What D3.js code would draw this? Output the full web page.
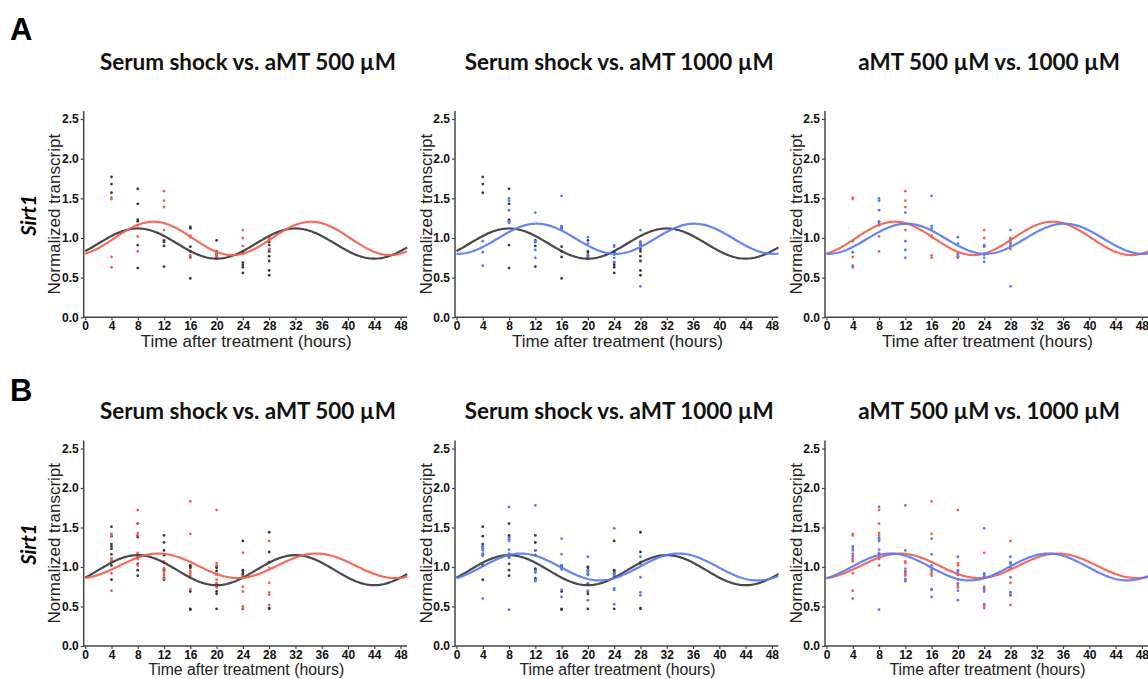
<!DOCTYPE html>
<html>
<head>
<meta charset="utf-8">
<script src="https://cdn.jsdelivr.net/npm/d3@7"></script>
<style>
  html, body { margin: 0; padding: 0; background: #fff; }
  svg { display: block; }
</style>
</head>
<body>
<svg id="chart" width="1148" height="679"></svg>
<script>
// ---------------- DATA ----------------
const timepoints = [4, 8, 12, 16, 20, 24, 28];
const xTicks = [0, 4, 8, 12, 16, 20, 24, 28, 32, 36, 40, 44, 48];
const yTicks = [0, 0.5, 1.0, 1.5, 2.0, 2.5];

const seriesNames = ["Serum shock", "aMT 500 µM", "aMT 1000 µM"];
const panelTitles = ["Serum shock vs. aMT 500 µM", "Serum shock vs. aMT 1000 µM", "aMT 500 µM vs. 1000 µM"];
const panelPairs = [[0, 1], [0, 2], [1, 2]];
const rowLabels = ["A", "B"];
const geneName = "Sirt1";

// Row A replicate values at each timepoint
const serumA = [
  [1.77, 1.68, 1.57],
  [1.62, 1.43, 1.23, 1.21, 0.91, 0.62],
  [0.97, 0.95, 0.90, 0.64],
  [1.14, 1.12, 0.89, 0.83, 0.76, 0.49],
  [0.97, 0.83, 0.81, 0.78, 0.74],
  [0.82, 0.69, 0.66, 0.63, 0.56],
  [0.95, 0.91, 0.86, 0.83, 0.77, 0.71, 0.59, 0.53]
];
const aMT500A = [
  [1.51, 1.49, 0.76, 0.63],
  [1.16, 1.02, 0.83],
  [1.59, 1.47, 1.39, 1.10],
  [1.03, 1.01, 0.78, 0.75],
  [0.80, 0.77, 0.75],
  [1.10, 1.00, 0.90, 0.80],
  [1.00, 0.98, 0.86]
];
const aMT1000A = [
  [0.96, 0.82, 0.65],
  [1.50, 1.47, 1.35, 1.21, 1.19],
  [1.32, 0.96, 0.85, 0.75],
  [1.53, 1.15, 1.12],
  [1.01, 0.93, 0.79, 0.77],
  [0.91, 0.89, 0.79, 0.75, 0.70],
  [1.10, 0.95, 0.93, 0.90, 0.39]
];
// Row B replicate values
const serumB = [
  [1.51, 1.39, 1.29, 1.26, 1.23, 1.16, 1.02, 0.84],
  [1.55, 1.40, 1.38, 1.12, 1.04, 0.96, 0.89],
  [1.40, 1.31, 1.21, 1.15, 0.98, 0.96, 0.86, 0.84],
  [1.02, 1.00, 0.99, 0.69, 0.47, 0.46],
  [1.00, 0.99, 0.95, 0.91, 0.79, 0.69, 0.66, 0.47],
  [1.33, 0.96, 0.95, 0.92, 0.90, 0.87, 0.47],
  [1.44, 1.19, 1.06, 0.48, 0.47]
];
const aMT500B = [
  [1.42, 1.40, 1.11, 1.09, 1.07, 0.92, 0.70],
  [1.72, 1.55, 1.43, 1.40, 1.18, 1.16, 1.10, 1.02],
  [1.07, 1.05, 0.98, 0.94, 0.91, 0.89, 0.85],
  [1.83, 1.42, 0.95, 0.92, 0.89, 0.72],
  [1.72, 1.05, 1.02, 0.90, 0.84, 0.79, 0.76, 0.74],
  [1.18, 0.88, 0.75, 0.69, 0.50, 0.48],
  [1.33, 0.99, 0.80, 0.68, 0.65, 0.52]
];
const aMT1000B = [
  [1.26, 1.24, 1.21, 1.17, 1.14, 0.60],
  [1.76, 1.37, 1.35, 1.33, 1.22, 1.17, 1.12, 0.46],
  [1.78, 1.21, 0.95, 0.93, 0.84, 0.82],
  [1.36, 1.16, 1.02, 0.97, 0.71, 0.62],
  [1.13, 0.96, 0.94, 0.91, 0.90, 0.79, 0.70, 0.58],
  [1.49, 0.92, 0.90, 0.88, 0.73, 0.71, 0.53],
  [1.13, 1.06, 1.04, 0.87, 0.68, 0.64]
];

// Cosinor fit parameters: [mesor, amplitude, acrophase (h), period (h)]
const fitSerumA   = [0.93, 0.19, 8.0, 24];
const fitAMT500A  = [0.995, 0.21, 10.4, 24];
const fitAMT1000A = [0.99, 0.19, 12.2, 24];
const fitSerumB   = [0.96, 0.19, 8.0, 24];
const fitAMT500B  = [1.015, 0.155, 11.2, 24];
const fitAMT1000B = [1.0, 0.17, 9.8, 24];

const rowData = [[serumA, aMT500A, aMT1000A], [serumB, aMT500B, aMT1000B]];
const rowFits = [[fitSerumA, fitAMT500A, fitAMT1000A], [fitSerumB, fitAMT500B, fitAMT1000B]];

// ---------------- STYLE / LAYOUT ----------------
const colors = ["#3a3a3a", "#f4604f", "#5b7bf6"];
const colX0 = [85.2, 456.5, 826.5];     // pixel of t = 0
const rowY0 = [317.3, 646];              // pixel of value 0
const rowY25 = [119, 448.5];             // pixel of value 2.5
const titleY = [70, 419];
const rowLabelY = [40, 401];
const xTitleY = [346.5, 675.4];
const xTitleSize = [17, 15.8];
const plotW = 6.57 * 49;

const svg = d3.select("#chart");
const FONT = "'Liberation Sans', Arial, sans-serif";

// measure title font size
const probe = svg.append("text").attr("font-family", "Lato, 'Open Sans', sans-serif")
  .attr("font-weight", 700).attr("font-size", 20).text(panelTitles[0]);
const probeW = probe.node().getComputedTextLength();
probe.remove();
const titleSize = 20 * 296 / probeW;

rowLabels.forEach((lab, r) => {
  svg.append("text")
    .attr("x", 10).attr("y", rowLabelY[r])
    .attr("font-family", FONT).attr("font-weight", 700).attr("font-size", 31)
    .attr("fill", "#000").text(lab);

  const yC = (rowY0[r] + rowY25[r]) / 2 - 3;
  svg.append("text")
    .attr("transform", `translate(36,${yC}) rotate(-90)`)
    .attr("text-anchor", "middle")
    .attr("font-family", "Lato, " + FONT).attr("font-weight", 700).attr("font-style", "italic")
    .attr("font-size", 20).attr("fill", "#000").text(geneName);

  panelPairs.forEach((pair, c) => {
    const x = d3.scaleLinear().domain([0, 49]).range([colX0[c], colX0[c] + plotW]);
    const y = d3.scaleLinear().domain([0, 2.5]).range([rowY0[r], rowY25[r]]);
    const axX = colX0[c] - 1.5;
    const g = svg.append("g");

    // title
    svg.append("text")
      .attr("x", (colX0[c] + x(48)) / 2 + 5).attr("y", titleY[r])
      .attr("text-anchor", "middle")
      .attr("font-family", "Lato, 'Open Sans', sans-serif").attr("font-weight", 700)
      .attr("font-size", titleSize).attr("fill", "#111")
      .text(panelTitles[c]);

    // axes
    const yAxis = d3.axisLeft(y).tickValues(yTicks).tickFormat(d3.format(".1f"))
      .tickSize(3).tickPadding(2).tickSizeOuter(0);
    const ya = g.append("g").attr("transform", `translate(${axX},0)`).call(yAxis);
    const xAxis = d3.axisBottom(x).tickValues(xTicks).tickFormat(d3.format("d"))
      .tickSize(3).tickPadding(1).tickSizeOuter(0);
    const xa = g.append("g").attr("transform", `translate(0,${rowY0[r]})`).call(xAxis);
    [ya, xa].forEach(a => {
      a.select(".domain").remove();
      a.selectAll(".tick line").attr("stroke", "#444").attr("stroke-width", 1.2);
      a.selectAll(".tick text").attr("font-family", FONT).attr("font-weight", 700)
        .attr("font-size", 12).attr("fill", "#111");
    });
    g.append("line").attr("x1", axX).attr("x2", axX)
      .attr("y1", rowY0[r] + 0.75).attr("y2", y(2.6))
      .attr("stroke", "#444").attr("stroke-width", 1.5);
    g.append("line").attr("x1", axX).attr("x2", x(49))
      .attr("y1", rowY0[r]).attr("y2", rowY0[r])
      .attr("stroke", "#444").attr("stroke-width", 1.5);

    // axis titles
    g.append("text")
      .attr("x", (colX0[c] + x(49)) / 2).attr("y", xTitleY[r])
      .attr("text-anchor", "middle").attr("font-family", FONT)
      .attr("font-size", xTitleSize[r]).attr("fill", "#222")
      .text("Time after treatment (hours)");
    g.append("text")
      .attr("transform", `translate(${axX - 29},${(rowY0[r] + y(2.6)) / 2}) rotate(-90)`)
      .attr("text-anchor", "middle").attr("dominant-baseline", "central")
      .attr("font-family", FONT).attr("font-size", 17).attr("fill", "#222")
      .text("Normalized transcript");

    // points
    pair.forEach(s => {
      const pts = [];
      rowData[r][s].forEach((vals, i) => vals.forEach(v => pts.push({ t: timepoints[i], v })));
      g.append("g").selectAll("circle").data(pts).join("circle")
        .attr("cx", d => x(d.t)).attr("cy", d => y(d.v)).attr("r", 1.4)
        .attr("fill", colors[s]);
    });
    // fitted cosinor curves
    pair.forEach(s => {
      const [m, a, phi, per] = rowFits[r][s];
      const ts = d3.range(0, 49.01, 0.25);
      const line = d3.line().x(t => x(t)).y(t => y(m + a * Math.cos(2 * Math.PI * (t - phi) / per)));
      g.append("path").attr("d", line(ts)).attr("fill", "none")
        .attr("stroke", colors[s]).attr("stroke-width", 2.2).attr("stroke-opacity", 0.92);
    });
  });
});
</script>
</body>
</html>
